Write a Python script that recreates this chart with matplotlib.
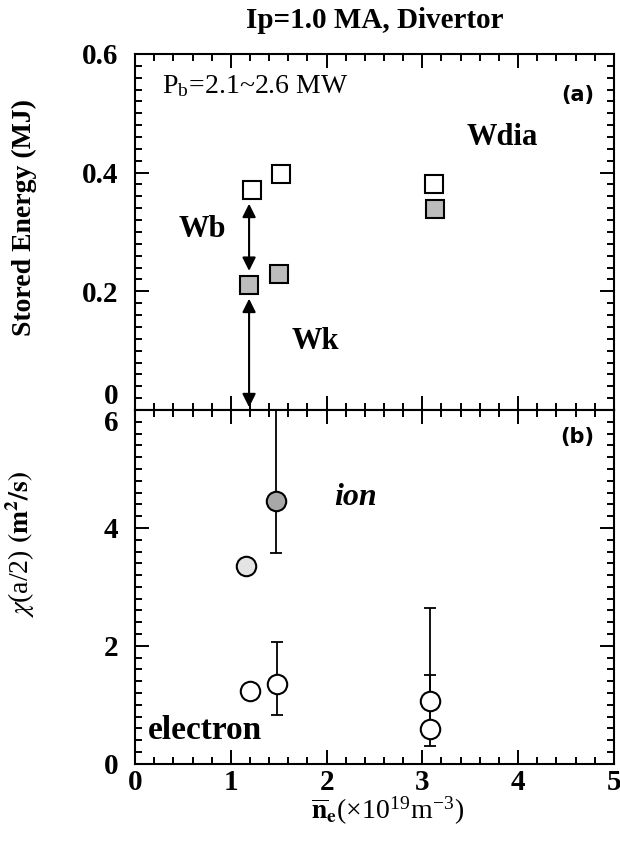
import numpy as np
import matplotlib.pyplot as plt
from matplotlib.ticker import MultipleLocator

plt.rcParams['font.family'] = ['Liberation Serif', 'DejaVu Serif']
plt.rcParams['mathtext.fontset'] = 'stix'

# (a) stored energy
ne_wdia = [1.22, 1.52, 3.12]
wdia = [0.371, 0.398, 0.381]
ne_wk = [1.19, 1.50, 3.13]
wk = [0.211, 0.229, 0.339]

# (b) diffusivity
ne_ion = [1.16, 1.47]
chi_ion = [3.35, 4.46]
ion_lo = [0.0, 0.88]
ion_hi = [0.0, 2.2]
ion_face = ['#e4e4e4', '#a8a8a8']

ne_el = [1.20, 1.48, 3.08, 3.08]
chi_el = [1.23, 1.36, 1.07, 0.59]
el_lo = [0.0, 0.53, 0.45, 0.29]
el_hi = [0.0, 0.71, 1.57, 0.91]

fig = plt.figure(figsize=(6.2, 8.42), dpi=100)
ax1 = fig.add_axes([0.218, 0.513, 0.772, 0.423])
ax2 = fig.add_axes([0.218, 0.093, 0.772, 0.420])

tkw = dict(direction='in', top=True, right=True, width=1.4)
for ax in (ax1, ax2):
    ax.set_xlim(0, 5)
    ax.xaxis.set_major_locator(MultipleLocator(1))
    ax.xaxis.set_minor_locator(MultipleLocator(0.2))
    ax.tick_params(which='major', length=10, **tkw)
    ax.tick_params(which='minor', length=5, **tkw)
    ax.tick_params(axis='y', which='major', pad=12)
    for s in ax.spines.values():
        s.set_linewidth(1.5)

# ---- panel (a)
ax1.set_ylim(0, 0.6)
ax1.yaxis.set_minor_locator(MultipleLocator(0.02))
ax1.set_yticks([0, 0.2, 0.4, 0.6])
ax1.set_yticklabels(['0', '0.2', '0.4', '0.6'], fontweight='bold', fontsize=21)
ax1.get_yticklabels()[0].set_va('bottom')
ax1.tick_params(labelbottom=False)

ax1.plot(ne_wdia, wdia, 's', ms=13, mfc='white', mec='black', mew=1.5)
ax1.plot(ne_wk, wk, 's', ms=13, mfc='#bcbcbc', mec='black', mew=1.5)

ax1.annotate('', xy=(ne_wk[0], wk[0]), xytext=(ne_wk[0], wdia[0]),
             arrowprops=dict(arrowstyle='<|-|>', color='black', lw=1.5,
                             mutation_scale=20, shrinkA=10, shrinkB=10))
ax1.annotate('', xy=(ne_wk[0], 0), xytext=(ne_wk[0], wk[0]),
             arrowprops=dict(arrowstyle='<|-|>', color='black', lw=1.5,
                             mutation_scale=20, shrinkA=10, shrinkB=2))

ax1.text(0.28, 0.545, r'P$_\mathregular{b}$=2.1~2.6 MW', fontsize=20, va='center')
ax1.text(4.80, 0.531, '(a)', fontsize=15, fontweight='bold', ha='right',
         va='center', family='DejaVu Sans')
ax1.text(3.46, 0.459, 'Wdia', fontsize=22, fontweight='bold', va='center')
ax1.text(0.45, 0.304, 'Wb', fontsize=22, fontweight='bold', va='center')
ax1.text(1.63, 0.116, 'Wk', fontsize=22, fontweight='bold', va='center')
ax1.set_ylabel('Stored Energy (MJ)', fontsize=20, fontweight='bold')
ax1.yaxis.set_label_coords(-0.205, 0.54)
fig.text(0.604, 1 - 20 / 842, 'Ip=1.0 MA, Divertor', fontsize=21,
         fontweight='bold', ha='center', va='center')

# ---- panel (b)
ax2.set_ylim(0, 6)
ax2.yaxis.set_minor_locator(MultipleLocator(0.2))
ax2.set_yticks([0, 2, 4, 6])
ax2.set_yticklabels(['0', '2', '4', '6'], fontweight='bold', fontsize=21)
ax2.get_yticklabels()[-1].set_va('top')
ax2.set_xticks(range(6))
ax2.set_xticklabels([str(i) for i in range(6)], fontweight='bold', fontsize=21)

for x, y, lo, hi in zip(ne_el, chi_el, el_lo, el_hi):
    if hi > 0:
        ax2.errorbar([x], [y], yerr=[[lo], [hi]], fmt='none', ecolor='black',
                     elinewidth=1.3, capsize=4, capthick=1.3)
ax2.errorbar(ne_ion, chi_ion, yerr=[ion_lo, ion_hi], fmt='none', ecolor='black',
             elinewidth=1.3, capsize=4, capthick=1.3)
ax2.plot(ne_el, chi_el, 'o', ms=14, mfc='white', mec='black', mew=1.5)
for x, y, fc in zip(ne_ion, chi_ion, ion_face):
    ax2.plot([x], [y], 'o', ms=14, mfc=fc, mec='black', mew=1.5)

ax2.text(4.80, 5.55, '(b)', fontsize=15, fontweight='bold', ha='right',
         va='center', family='DejaVu Sans')
ax2.text(2.08, 4.52, 'ion', fontsize=23, fontweight='bold', style='italic', va='center')
ax2.text(0.13, 0.56, 'electron', fontsize=24, fontweight='bold', va='center')
ax2.set_ylabel(r'$\chi$(a/2) $\mathbf{(m^2/s)}$', fontsize=20)
ax2.yaxis.set_label_coords(-0.205, 0.62)
ax2.set_xlabel(r'$\overline{\mathbf{n}}_\mathbf{e}$(×10$^{\mathregular{19}}$m$^{\mathregular{-3}}$)',
               fontsize=20)
ax2.xaxis.set_label_coords(0.527, -0.085)

fig.savefig('out.png', dpi=100)
